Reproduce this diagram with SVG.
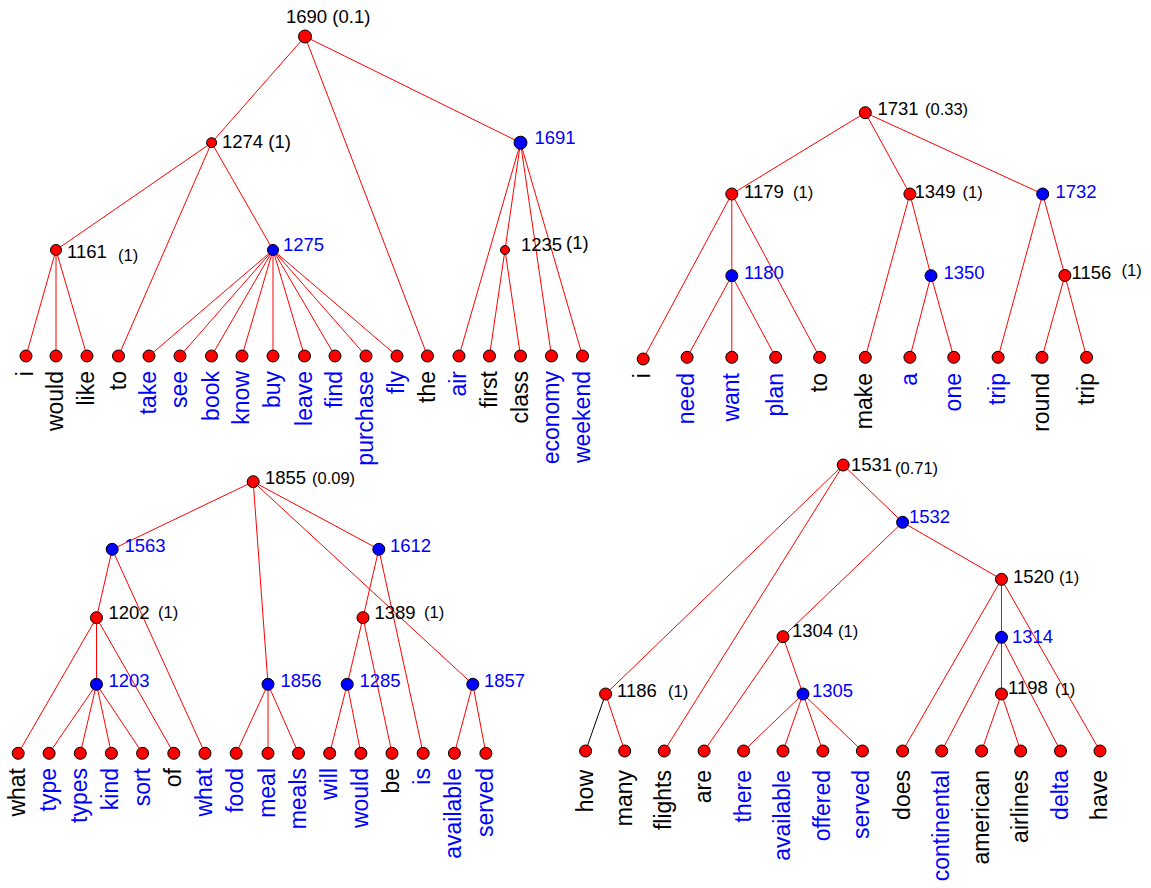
<svg xmlns="http://www.w3.org/2000/svg" width="1151" height="888" viewBox="0 0 1151 888">
<style>
text{font-family:"Liberation Sans",Arial,sans-serif;fill:#000}
.e line{stroke:#ff0000;stroke-width:1;fill:none}
.r{fill:#ff0000;stroke:#000;stroke-width:1}
.b{fill:#0000ff;stroke:#000;stroke-width:1}
.n{font-size:18.5px}
.nb{font-size:18.5px;fill:#0000ff}
.p{font-size:16.5px}
.lf{font-size:23px;text-anchor:end}
.lb{font-size:23px;text-anchor:end;fill:#0000ff}
</style>
<rect width="1151" height="888" fill="#fff"/>

<!-- ================= connectors ================= -->
<g id="connectors" class="e">
<!-- top-left tree -->
<line x1="305" y1="36.5" x2="211.6" y2="142.7"/>
<line x1="305" y1="36.5" x2="427.5" y2="356"/>
<line x1="305" y1="36.5" x2="520.5" y2="142.7"/>
<line x1="211.6" y1="142.7" x2="56" y2="250"/>
<line x1="211.6" y1="142.7" x2="118.5" y2="356"/>
<line x1="211.6" y1="142.7" x2="273" y2="250"/>
<line x1="56" y1="250" x2="26" y2="356"/>
<line x1="56" y1="250" x2="56" y2="356"/>
<line x1="56" y1="250" x2="87" y2="356"/>
<line x1="273" y1="250" x2="149" y2="356"/>
<line x1="273" y1="250" x2="180" y2="356"/>
<line x1="273" y1="250" x2="211.5" y2="356"/>
<line x1="273" y1="250" x2="242" y2="356"/>
<line x1="273" y1="250" x2="273" y2="356"/>
<line x1="273" y1="250" x2="304.5" y2="356"/>
<line x1="273" y1="250" x2="335" y2="356"/>
<line x1="273" y1="250" x2="366" y2="356"/>
<line x1="273" y1="250" x2="397" y2="356"/>
<line x1="520.5" y1="142.7" x2="459" y2="356"/>
<line x1="520.5" y1="142.7" x2="505" y2="250"/>
<line x1="520.5" y1="142.7" x2="551.5" y2="356"/>
<line x1="520.5" y1="142.7" x2="582.5" y2="356"/>
<line x1="505" y1="250" x2="489.5" y2="356"/>
<line x1="505" y1="250" x2="520.5" y2="356"/>
<!-- top-right tree -->
<line x1="865.3" y1="112.7" x2="731.8" y2="194"/>
<line x1="865.3" y1="112.7" x2="909.9" y2="194"/>
<line x1="865.3" y1="112.7" x2="1042.7" y2="194"/>
<line x1="731.8" y1="194" x2="643.2" y2="359"/>
<line x1="731.8" y1="194" x2="731.8" y2="275.7"/>
<line x1="731.8" y1="194" x2="819.6" y2="357.3"/>
<line x1="731.8" y1="275.7" x2="687.1" y2="357.3"/>
<line x1="731.8" y1="275.7" x2="731.8" y2="357.3"/>
<line x1="731.8" y1="275.7" x2="775.7" y2="357.3"/>
<line x1="909.9" y1="194" x2="865.3" y2="357.3"/>
<line x1="909.9" y1="194" x2="931" y2="275.7"/>
<line x1="931" y1="275.7" x2="909.9" y2="357.3"/>
<line x1="931" y1="275.7" x2="953.8" y2="357.3"/>
<line x1="1042.7" y1="194" x2="998.1" y2="357.3"/>
<line x1="1042.7" y1="194" x2="1064.9" y2="275.5"/>
<line x1="1064.9" y1="275.5" x2="1042" y2="357.3"/>
<line x1="1064.9" y1="275.5" x2="1086.6" y2="357.3"/>
<!-- bottom-left tree -->
<line x1="253.2" y1="481.7" x2="112.2" y2="549.3"/>
<line x1="253.2" y1="481.7" x2="268" y2="684.3"/>
<line x1="253.2" y1="481.7" x2="378.8" y2="549.3"/>
<line x1="253.2" y1="481.7" x2="472.8" y2="684.3"/>
<line x1="112.2" y1="549.3" x2="96.5" y2="617.7"/>
<line x1="112.2" y1="549.3" x2="205" y2="753.3"/>
<line x1="96.5" y1="617.7" x2="18.2" y2="753.3"/>
<line x1="96.5" y1="617.7" x2="96.5" y2="684.3"/>
<line x1="96.5" y1="617.7" x2="173.8" y2="753.3"/>
<line x1="96.5" y1="684.3" x2="49.1" y2="753.3"/>
<line x1="96.5" y1="684.3" x2="80.3" y2="753.3"/>
<line x1="96.5" y1="684.3" x2="111.4" y2="753.3"/>
<line x1="96.5" y1="684.3" x2="142.6" y2="753.3"/>
<line x1="268" y1="684.3" x2="236.2" y2="753.3"/>
<line x1="268" y1="684.3" x2="268" y2="753.3"/>
<line x1="268" y1="684.3" x2="298.5" y2="753.3"/>
<line x1="378.8" y1="549.3" x2="363" y2="617.7"/>
<line x1="378.8" y1="549.3" x2="423.2" y2="753.3"/>
<line x1="363" y1="617.7" x2="347.2" y2="684.3"/>
<line x1="363" y1="617.7" x2="392" y2="753.3"/>
<line x1="347.2" y1="684.3" x2="329.7" y2="753.3"/>
<line x1="347.2" y1="684.3" x2="360.9" y2="753.3"/>
<line x1="472.8" y1="684.3" x2="454.4" y2="753.3"/>
<line x1="472.8" y1="684.3" x2="485.9" y2="753.3"/>
<!-- bottom-right tree -->
<line x1="843.2" y1="465" x2="605.6" y2="694"/>
<line x1="843.2" y1="465" x2="664.2" y2="751"/>
<line x1="843.2" y1="465" x2="902.6" y2="522.3"/>
<line x1="605.6" y1="694" x2="585.6" y2="751" style="stroke:#000"/>
<line x1="605.6" y1="694" x2="624.7" y2="751"/>
<line x1="902.6" y1="522.3" x2="783" y2="636.7"/>
<line x1="902.6" y1="522.3" x2="1001.5" y2="579.3"/>
<line x1="783" y1="636.7" x2="704.1" y2="751"/>
<line x1="783" y1="636.7" x2="803" y2="694"/>
<line x1="803" y1="694" x2="743.6" y2="751"/>
<line x1="803" y1="694" x2="783" y2="751"/>
<line x1="803" y1="694" x2="822.9" y2="751"/>
<line x1="803" y1="694" x2="862.4" y2="751"/>
<line x1="1001.5" y1="579.3" x2="902.6" y2="751"/>
<line x1="1001.5" y1="579.3" x2="1001.5" y2="637.3"/>
<line x1="1001.5" y1="579.3" x2="1100" y2="751"/>
<line x1="1001.5" y1="637.3" x2="941.7" y2="751"/>
<line x1="1001.5" y1="637.3" x2="1001.5" y2="694"/>
<line x1="1001.5" y1="637.3" x2="1060.5" y2="751"/>
<line x1="1001.5" y1="694" x2="981.6" y2="751"/>
<line x1="1001.5" y1="694" x2="1020.7" y2="751"/>
</g>

<!-- ================= top-left tree nodes ================= -->
<g id="n1690"><circle class="r" cx="305" cy="36.5" r="6.5"/><text class="n" x="286" y="23">1690 (0.1)</text></g>
<g id="n1274"><circle class="r" cx="211.6" cy="142.7" r="5"/><text class="n" x="222" y="147.5">1274 (1)</text></g>
<g id="n1691"><circle class="b" cx="520.5" cy="142.7" r="6.5"/><text class="nb" x="534.5" y="143.5">1691</text></g>
<g id="n1161"><circle class="r" cx="56" cy="250" r="5.5"/><text class="n" x="67" y="258">1161</text><text class="p" x="118" y="261">(1)</text></g>
<g id="n1275"><circle class="b" cx="273" cy="250" r="5.5"/><text class="nb" x="283" y="250.5">1275</text></g>
<g id="n1235"><circle class="r" cx="505" cy="250" r="4.5"/><text class="n" x="521" y="250.5">1235</text><text class="n" x="566" y="249">(1)</text></g>
<g id="tl-i"><circle class="r" cx="26" cy="356" r="6"/><text class="lf" transform="translate(33,371) rotate(-90)">i</text></g>
<g id="tl-would"><circle class="r" cx="56" cy="356" r="6"/><text class="lf" transform="translate(63,371) rotate(-90)">would</text></g>
<g id="tl-like"><circle class="r" cx="87" cy="356" r="6"/><text class="lf" transform="translate(94,371) rotate(-90)">like</text></g>
<g id="tl-to"><circle class="r" cx="118.5" cy="356" r="6"/><text class="lf" transform="translate(125.5,371) rotate(-90)">to</text></g>
<g id="tl-take"><circle class="r" cx="149" cy="356" r="6"/><text class="lb" transform="translate(156,371) rotate(-90)">take</text></g>
<g id="tl-see"><circle class="r" cx="180" cy="356" r="6"/><text class="lb" transform="translate(187,371) rotate(-90)">see</text></g>
<g id="tl-book"><circle class="r" cx="211.5" cy="356" r="6"/><text class="lb" transform="translate(218.5,371) rotate(-90)">book</text></g>
<g id="tl-know"><circle class="r" cx="242" cy="356" r="6"/><text class="lb" transform="translate(249,371) rotate(-90)">know</text></g>
<g id="tl-buy"><circle class="r" cx="273" cy="356" r="6"/><text class="lb" transform="translate(280,371) rotate(-90)">buy</text></g>
<g id="tl-leave"><circle class="r" cx="304.5" cy="356" r="6"/><text class="lb" transform="translate(311.5,371) rotate(-90)">leave</text></g>
<g id="tl-find"><circle class="r" cx="335" cy="356" r="6"/><text class="lb" transform="translate(342,371) rotate(-90)">find</text></g>
<g id="tl-purchase"><circle class="r" cx="366" cy="356" r="6"/><text class="lb" transform="translate(373,371) rotate(-90)">purchase</text></g>
<g id="tl-fly"><circle class="r" cx="397" cy="356" r="6"/><text class="lb" transform="translate(404,371) rotate(-90)">fly</text></g>
<g id="tl-the"><circle class="r" cx="427.5" cy="356" r="6"/><text class="lf" transform="translate(434.5,371) rotate(-90)">the</text></g>
<g id="tl-air"><circle class="r" cx="459" cy="356" r="6"/><text class="lb" transform="translate(466,371) rotate(-90)">air</text></g>
<g id="tl-first"><circle class="r" cx="489.5" cy="356" r="6"/><text class="lf" transform="translate(496.5,371) rotate(-90)">first</text></g>
<g id="tl-class"><circle class="r" cx="520.5" cy="356" r="6"/><text class="lf" transform="translate(527.5,371) rotate(-90)">class</text></g>
<g id="tl-economy"><circle class="r" cx="551.5" cy="356" r="6"/><text class="lb" transform="translate(558.5,371) rotate(-90)">economy</text></g>
<g id="tl-weekend"><circle class="r" cx="582.5" cy="356" r="6"/><text class="lb" transform="translate(589.5,371) rotate(-90)">weekend</text></g>

<!-- ================= top-right tree nodes ================= -->
<g id="n1731"><circle class="r" cx="865.3" cy="112.7" r="6"/><text class="n" x="877.5" y="115">1731</text><text class="p" x="925" y="115">(0.33)</text></g>
<g id="n1179"><circle class="r" cx="731.8" cy="194" r="6"/><text class="n" x="744" y="197.5">1179</text><text class="p" x="793" y="197.5">(1)</text></g>
<g id="n1349"><circle class="r" cx="909.9" cy="194" r="6"/><text class="n" x="914.5" y="197.5">1349</text><text class="p" x="962.5" y="197.5">(1)</text></g>
<g id="n1732"><circle class="b" cx="1042.7" cy="194" r="6"/><text class="nb" x="1055.5" y="197.5">1732</text></g>
<g id="n1180"><circle class="b" cx="731.8" cy="275.7" r="6"/><text class="nb" x="744" y="279">1180</text></g>
<g id="n1350"><circle class="b" cx="931" cy="275.7" r="6"/><text class="nb" x="943.5" y="279">1350</text></g>
<g id="n1156"><circle class="r" cx="1064.9" cy="275.5" r="6"/><text class="n" x="1071.5" y="279">1156</text><text class="p" x="1121.5" y="276">(1)</text></g>
<g id="tr-i"><circle class="r" cx="643.2" cy="359" r="6"/><text class="lf" transform="translate(650.2,373) rotate(-90)">i</text></g>
<g id="tr-need"><circle class="r" cx="687.1" cy="357.3" r="6"/><text class="lb" transform="translate(694.1,373) rotate(-90)">need</text></g>
<g id="tr-want"><circle class="r" cx="731.8" cy="357.3" r="6"/><text class="lb" transform="translate(738.8,373) rotate(-90)">want</text></g>
<g id="tr-plan"><circle class="r" cx="775.7" cy="357.3" r="6"/><text class="lb" transform="translate(782.7,373) rotate(-90)">plan</text></g>
<g id="tr-to"><circle class="r" cx="819.6" cy="357.3" r="6"/><text class="lf" transform="translate(826.6,373) rotate(-90)">to</text></g>
<g id="tr-make"><circle class="r" cx="865.3" cy="357.3" r="6"/><text class="lf" transform="translate(872.3,373) rotate(-90)">make</text></g>
<g id="tr-a"><circle class="r" cx="909.9" cy="357.3" r="6"/><text class="lb" transform="translate(916.9,373) rotate(-90)">a</text></g>
<g id="tr-one"><circle class="r" cx="953.8" cy="357.3" r="6"/><text class="lb" transform="translate(960.8,373) rotate(-90)">one</text></g>
<g id="tr-trip1"><circle class="r" cx="998.1" cy="357.3" r="6"/><text class="lb" transform="translate(1005.1,373) rotate(-90)">trip</text></g>
<g id="tr-round"><circle class="r" cx="1042" cy="357.3" r="6"/><text class="lf" transform="translate(1049,373) rotate(-90)">round</text></g>
<g id="tr-trip2"><circle class="r" cx="1086.6" cy="357.3" r="6"/><text class="lf" transform="translate(1093.6,373) rotate(-90)">trip</text></g>

<!-- ================= bottom-left tree nodes ================= -->
<g id="n1855"><circle class="r" cx="253.2" cy="481.7" r="6"/><text class="n" x="265" y="484">1855</text><text class="p" x="312" y="484">(0.09)</text></g>
<g id="n1563"><circle class="b" cx="112.2" cy="549.3" r="6"/><text class="nb" x="124.5" y="552">1563</text></g>
<g id="n1612"><circle class="b" cx="378.8" cy="549.3" r="6"/><text class="nb" x="390" y="552">1612</text></g>
<g id="n1202"><circle class="r" cx="96.5" cy="617.7" r="6"/><text class="n" x="108.5" y="619">1202</text><text class="p" x="158" y="618">(1)</text></g>
<g id="n1389"><circle class="r" cx="363" cy="617.7" r="6"/><text class="n" x="374.5" y="619">1389</text><text class="p" x="424" y="618">(1)</text></g>
<g id="n1203"><circle class="b" cx="96.5" cy="684.3" r="6"/><text class="nb" x="108.5" y="686.5">1203</text></g>
<g id="n1856"><circle class="b" cx="268" cy="684.3" r="6"/><text class="nb" x="280.5" y="686.5">1856</text></g>
<g id="n1285"><circle class="b" cx="347.2" cy="684.3" r="6"/><text class="nb" x="359.5" y="686.5">1285</text></g>
<g id="n1857"><circle class="b" cx="472.8" cy="684.3" r="6"/><text class="nb" x="484" y="686.5">1857</text></g>
<g id="bl-what1"><circle class="r" cx="18.2" cy="753.3" r="6"/><text class="lf" transform="translate(25.2,768) rotate(-90)">what</text></g>
<g id="bl-type"><circle class="r" cx="49.1" cy="753.3" r="6"/><text class="lb" transform="translate(56.1,768) rotate(-90)">type</text></g>
<g id="bl-types"><circle class="r" cx="80.3" cy="753.3" r="6"/><text class="lb" transform="translate(87.3,768) rotate(-90)">types</text></g>
<g id="bl-kind"><circle class="r" cx="111.4" cy="753.3" r="6"/><text class="lb" transform="translate(118.4,768) rotate(-90)">kind</text></g>
<g id="bl-sort"><circle class="r" cx="142.6" cy="753.3" r="6"/><text class="lb" transform="translate(149.6,768) rotate(-90)">sort</text></g>
<g id="bl-of"><circle class="r" cx="173.8" cy="753.3" r="6"/><text class="lf" transform="translate(180.8,768) rotate(-90)">of</text></g>
<g id="bl-what2"><circle class="r" cx="205" cy="753.3" r="6"/><text class="lb" transform="translate(212,768) rotate(-90)">what</text></g>
<g id="bl-food"><circle class="r" cx="236.2" cy="753.3" r="6"/><text class="lb" transform="translate(243.2,768) rotate(-90)">food</text></g>
<g id="bl-meal"><circle class="r" cx="268" cy="753.3" r="6"/><text class="lb" transform="translate(275,768) rotate(-90)">meal</text></g>
<g id="bl-meals"><circle class="r" cx="298.5" cy="753.3" r="6"/><text class="lb" transform="translate(305.5,768) rotate(-90)">meals</text></g>
<g id="bl-will"><circle class="r" cx="329.7" cy="753.3" r="6"/><text class="lb" transform="translate(336.7,768) rotate(-90)">will</text></g>
<g id="bl-would"><circle class="r" cx="360.9" cy="753.3" r="6"/><text class="lb" transform="translate(367.9,768) rotate(-90)">would</text></g>
<g id="bl-be"><circle class="r" cx="392" cy="753.3" r="6"/><text class="lf" transform="translate(399,768) rotate(-90)">be</text></g>
<g id="bl-is"><circle class="r" cx="423.2" cy="753.3" r="6"/><text class="lb" transform="translate(430.2,768) rotate(-90)">is</text></g>
<g id="bl-available"><circle class="r" cx="454.4" cy="753.3" r="6"/><text class="lb" transform="translate(461.4,768) rotate(-90)">available</text></g>
<g id="bl-served"><circle class="r" cx="485.9" cy="753.3" r="6"/><text class="lb" transform="translate(492.9,768) rotate(-90)">served</text></g>

<!-- ================= bottom-right tree nodes ================= -->
<g id="n1531"><circle class="r" cx="843.2" cy="465" r="6"/><text class="n" x="851" y="470.5">1531</text><text class="p" x="895" y="473.5">(0.71)</text></g>
<g id="n1532"><circle class="b" cx="902.6" cy="522.3" r="6"/><text class="nb" x="909" y="523">1532</text></g>
<g id="n1520"><circle class="r" cx="1001.5" cy="579.3" r="6"/><text class="n" x="1013" y="583">1520</text><text class="p" x="1059" y="583">(1)</text></g>
<g id="n1304"><circle class="r" cx="783" cy="636.7" r="6"/><text class="n" x="792" y="637">1304</text><text class="p" x="838" y="637">(1)</text></g>
<g id="n1314"><circle class="b" cx="1001.5" cy="637.3" r="6"/><text class="nb" x="1012" y="643">1314</text></g>
<g id="n1186"><circle class="r" cx="605.6" cy="694" r="6"/><text class="n" x="617" y="696.5">1186</text><text class="p" x="668" y="696.5">(1)</text></g>
<g id="n1305"><circle class="b" cx="803" cy="694" r="6"/><text class="nb" x="812" y="696.5">1305</text></g>
<g id="n1198"><circle class="r" cx="1001.5" cy="694" r="6"/><text class="n" x="1008" y="694">1198</text><text class="p" x="1055" y="695">(1)</text></g>
<g id="br-how"><circle class="r" cx="585.6" cy="751" r="6"/><text class="lf" transform="translate(592.6,770) rotate(-90)">how</text></g>
<g id="br-many"><circle class="r" cx="624.7" cy="751" r="6"/><text class="lf" transform="translate(631.7,770) rotate(-90)">many</text></g>
<g id="br-flights"><circle class="r" cx="664.2" cy="751" r="6"/><text class="lf" transform="translate(671.2,770) rotate(-90)">flights</text></g>
<g id="br-are"><circle class="r" cx="704.1" cy="751" r="6"/><text class="lf" transform="translate(711.1,770) rotate(-90)">are</text></g>
<g id="br-there"><circle class="r" cx="743.6" cy="751" r="6"/><text class="lb" transform="translate(750.6,770) rotate(-90)">there</text></g>
<g id="br-available"><circle class="r" cx="783" cy="751" r="6"/><text class="lb" transform="translate(790,770) rotate(-90)">available</text></g>
<g id="br-offered"><circle class="r" cx="822.9" cy="751" r="6"/><text class="lb" transform="translate(829.9,770) rotate(-90)">offered</text></g>
<g id="br-served"><circle class="r" cx="862.4" cy="751" r="6"/><text class="lb" transform="translate(869.4,770) rotate(-90)">served</text></g>
<g id="br-does"><circle class="r" cx="902.6" cy="751" r="6"/><text class="lf" transform="translate(909.6,770) rotate(-90)">does</text></g>
<g id="br-continental"><circle class="r" cx="941.7" cy="751" r="6"/><text class="lb" transform="translate(948.7,770) rotate(-90)">continental</text></g>
<g id="br-american"><circle class="r" cx="981.6" cy="751" r="6"/><text class="lf" transform="translate(988.6,770) rotate(-90)">american</text></g>
<g id="br-airlines"><circle class="r" cx="1020.7" cy="751" r="6"/><text class="lf" transform="translate(1027.7,770) rotate(-90)">airlines</text></g>
<g id="br-delta"><circle class="r" cx="1060.5" cy="751" r="6"/><text class="lb" transform="translate(1067.5,770) rotate(-90)">delta</text></g>
<g id="br-have"><circle class="r" cx="1100" cy="751" r="6"/><text class="lf" transform="translate(1107,770) rotate(-90)">have</text></g>
</svg>
